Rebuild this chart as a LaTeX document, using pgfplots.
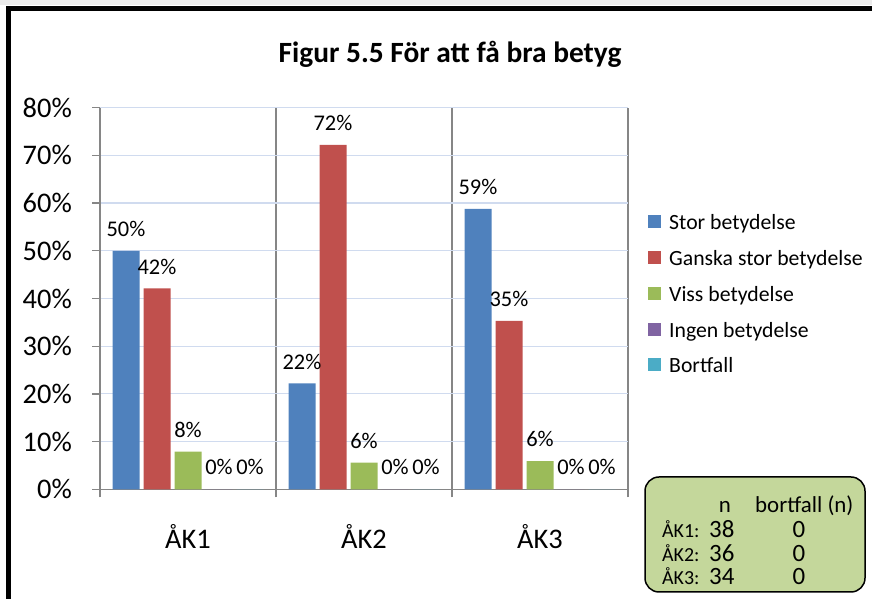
\documentclass[border=0pt]{standalone}
\usepackage{fontspec}
\setmainfont{Carlito}
\usepackage{pgfplots}
\pgfplotsset{compat=1.18}
\definecolor{cblue}{HTML}{4F81BD}
\definecolor{cred}{HTML}{C0504D}
\definecolor{cgreen}{HTML}{9BBB59}
\definecolor{cpurple}{HTML}{8064A2}
\definecolor{ccyan}{HTML}{4BACC6}
\definecolor{gridblue}{RGB}{208,219,239}
\definecolor{sepgray}{RGB}{134,134,134}
\definecolor{boxgreen}{HTML}{C4D79B}
\begin{document}
\begin{tikzpicture}[x=1bp,y=1bp]
\useasboundingbox (0,0) rectangle (872,599);
\fill[black!8] (0,594) rectangle (872,599);
\draw[line width=5.5bp] (8.5,-5) -- (8.5,590.5) -- (880,590.5);
\node[font=\fontsize{29.5}{35}\selectfont\bfseries, anchor=base] at (450,536) {Figur 5.5 För att få bra betyg};
\begin{axis}[
  at={(100bp,109.7bp)}, anchor=south west,
  scale only axis, width=528bp, height=381.6bp,
  xmin=-0.5, xmax=2.5, ymin=0, ymax=80,
  ybar=4bp, bar width=27bp,
  axis x line*=bottom, axis y line*=left,
  axis line style={sepgray, line width=1.3bp, -},
  xtick={-0.5,0.5,1.5,2.5}, xticklabels={},
  extra x ticks={0,1,2}, extra x tick labels={ÅK1,ÅK2,ÅK3},
  extra x tick style={major tick length=0pt, grid=none,
    xticklabel style={anchor=base, yshift=-59bp}},
  ytick={0,10,...,80},
  yticklabel={\pgfmathprintnumber{\tick}\%},
  /pgf/number format/assume math mode=true,
  yticklabel style={anchor=east, inner sep=0pt, xshift=-20bp},
  tick align=outside, major tick length=8bp,
  tick style={sepgray, line width=1.3bp},
  xmajorgrids, ymajorgrids,
  major x grid style={sepgray, line width=1.3bp},
  major y grid style={gridblue, line width=1.2bp},
  ticklabel style={font=\fontsize{28.5}{34}\selectfont},
  nodes near coords={\pgfmathprintnumber[fixed,precision=0]{\pgfplotspointmeta}\%},
  every node near coord/.append style={font=\fontsize{22.5}{27}\selectfont, anchor=south, inner sep=0pt, yshift=14bp},
  legend style={draw=none, fill=none, at={(1,1)}, anchor=north west, xshift=20bp, yshift=-107.3bp,
    inner sep=0pt, font=\fontsize{21.8}{26}\selectfont, row sep=16.3bp, column sep=8bp,
    nodes={inner sep=0pt, text height=14bp, text depth=5bp}},
  legend cell align=left,
  every axis plot post/.append style={legend image code/.code={\fill[##1] (0bp,-3bp) rectangle (13bp,10bp);}},
]
\addplot[fill=cblue, draw=none] coordinates {(0,50.0) (1,22.2) (2,58.8)};
\addplot[fill=cred, draw=none] coordinates {(0,42.1) (1,72.2) (2,35.3)};
\addplot[fill=cgreen, draw=none] coordinates {(0,7.9) (1,5.6) (2,5.9)};
\addplot[fill=cpurple, draw=none] coordinates {(0,0) (1,0) (2,0)};
\addplot[fill=ccyan, draw=none] coordinates {(0,0) (1,0) (2,0)};
\legend{Stor betydelse, Ganska stor betydelse, Viss betydelse, Ingen betydelse, Bortfall}
\end{axis}
\draw[line width=1.5bp, rounded corners=14bp, fill=boxgreen] (645,7) rectangle (865,122);
\begin{scope}[every node/.style={inner sep=0pt}]
\node[font=\fontsize{23}{27}\selectfont, anchor=base] at (725,86) {n};
\node[font=\fontsize{23}{27}\selectfont, anchor=base west] at (755,86) {bortfall (n)};
\node[font=\fontsize{20}{24}\selectfont, anchor=base west] at (662,61) {ÅK1:};
\node[font=\fontsize{20}{24}\selectfont, anchor=base west] at (662,37) {ÅK2:};
\node[font=\fontsize{20}{24}\selectfont, anchor=base west] at (662,14) {ÅK3:};
\node[font=\fontsize{25}{29}\selectfont, anchor=base west] at (709,61) {38};
\node[font=\fontsize{25}{29}\selectfont, anchor=base west] at (709,37) {36};
\node[font=\fontsize{25}{29}\selectfont, anchor=base west] at (709,14) {34};
\node[font=\fontsize{25}{29}\selectfont, anchor=base] at (799,61) {0};
\node[font=\fontsize{25}{29}\selectfont, anchor=base] at (799,37) {0};
\node[font=\fontsize{25}{29}\selectfont, anchor=base] at (799,14) {0};
\end{scope}
\end{tikzpicture}
\end{document}
